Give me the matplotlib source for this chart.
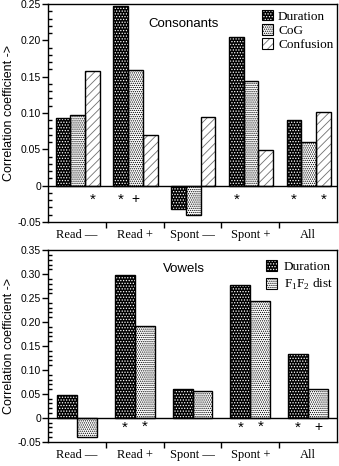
import matplotlib
matplotlib.use("Agg")
import matplotlib.pyplot as plt
from matplotlib.patches import Patch
from matplotlib.legend_handler import HandlerTuple
from matplotlib.ticker import MultipleLocator, FuncFormatter

# Категории
groups = ["Read —", "Read +", "Spont —", "Spont +", "All"]

# Согласные
cons_duration = [0.093, 0.247, -0.033, 0.205, 0.091]
cons_cog = [0.097, 0.159, -0.041, 0.144, 0.060]
cons_confusion = [0.158, 0.070, 0.095, 0.049, 0.102]
cons_dur_marks = ["", "*", "", "*", "*"]
cons_cog_marks = ["", "+", "", "", ""]
cons_conf_marks = ["*", "", "", "", "*"]

# Гласные
vow_duration = [0.047, 0.299, 0.061, 0.278, 0.134]
vow_f1f2 = [-0.039, 0.192, 0.055, 0.243, 0.061]
vow_dur_marks = ["", "*", "", "*", "*"]
vow_f1f2_marks = ["", "*", "", "*", "+"]

plt.rcParams['hatch.linewidth'] = 0.6
sans = "Liberation Sans"
serif = "Liberation Serif"

# стили заливки: (цвет фона, цвет штриховки, штриховка)
styles = {
    "Duration": ("black", "white", "......"),
    "CoG": ("white", "black", "........"),
    "Confusion": ("white", "#707070", "////"),
}


def draw_bars(ax, xs, vals, width, style):
    fc, hc, h = style
    ax.bar(xs, vals, width, align="edge", facecolor=fc, edgecolor=hc,
           hatch=h, linewidth=0, zorder=2)
    ax.bar(xs, vals, width, align="edge", facecolor="none",
           edgecolor="black", linewidth=1.0, zorder=3)


def legend_handle(style):
    fc, hc, h = style
    return (Patch(facecolor=fc, edgecolor=hc, hatch=h, linewidth=0),
            Patch(facecolor="none", edgecolor="black", linewidth=0.8))


def setup_axes(ax, ymin, ymax):
    ax.set_xlim(0, 5)
    ax.set_ylim(ymin, ymax)
    ax.axhline(0, color="black", linewidth=1.0, zorder=4)
    ax.yaxis.set_major_locator(MultipleLocator(0.05))
    ax.yaxis.set_minor_locator(MultipleLocator(0.01))
    ax.yaxis.set_major_formatter(FuncFormatter(
        lambda v, p: "0" if abs(v) < 1e-9 else "%.2f" % v))
    ax.tick_params(axis="y", which="major", direction="out", length=4,
                   width=1, labelsize=7.5, pad=1)
    ax.tick_params(axis="y", which="minor", direction="in", length=3, width=1)
    for lab in ax.get_yticklabels():
        lab.set_fontfamily(sans)
    ax.set_xticks([1, 2, 3, 4])
    ax.set_xticklabels([])
    ax.set_xticks([i + 0.5 for i in range(5)], minor=True)
    ax.set_xticklabels(groups, minor=True, fontfamily=serif, fontsize=9)
    ax.tick_params(axis="x", which="major", direction="out", length=4, width=1)
    ax.tick_params(axis="x", which="minor", length=0, pad=5)
    for sp in ax.spines.values():
        sp.set_linewidth(1.0)
    ax.set_ylabel("Correlation coefficient ->", fontfamily=sans, fontsize=9,
                  labelpad=2)


def put_marks(ax, xs, width, marks, y):
    for x, m in zip(xs, marks):
        if m:
            ax.text(x + width / 2, y, m, ha="center", va="center",
                    fontsize=11 if m == "*" else 10, fontfamily=sans,
                    zorder=5)


fig = plt.figure(figsize=(3.39, 4.66), dpi=100)
ax1 = fig.add_axes([0.1416, 0.524, 0.8525, 0.467])
ax2 = fig.add_axes([0.1416, 0.052, 0.8525, 0.411])

# верхний график - согласные
w = 0.255
off = 0.13
x0 = [i + off for i in range(5)]
x1 = [i + off + w for i in range(5)]
x2 = [i + off + 2 * w for i in range(5)]
draw_bars(ax1, x0, cons_duration, w, styles["Duration"])
draw_bars(ax1, x1, cons_cog, w, styles["CoG"])
draw_bars(ax1, x2, cons_confusion, w, styles["Confusion"])
setup_axes(ax1, -0.05, 0.25)
put_marks(ax1, x0, w, cons_dur_marks, -0.019)
put_marks(ax1, x1, w, cons_cog_marks, -0.018)
put_marks(ax1, x2, w, cons_conf_marks, -0.019)
ax1.text(0.47, 0.91, "Consonants", transform=ax1.transAxes, ha="center",
         va="center", fontfamily=sans, fontsize=9.5)
ax1.legend([legend_handle(styles[k]) for k in ["Duration", "CoG", "Confusion"]],
           ["Duration", "CoG", "Confusion"],
           handler_map={tuple: HandlerTuple(ndivide=1)},
           loc="upper right", bbox_to_anchor=(1.015, 1.01), frameon=False,
           prop={"family": serif, "size": 9.5}, handlelength=0.85,
           handleheight=0.85, handletextpad=0.35, labelspacing=0.1,
           borderaxespad=0.2)

# нижний график - гласные
w2 = 0.345
off2 = 0.155
v0 = [i + off2 for i in range(5)]
v1 = [i + off2 + w2 for i in range(5)]
draw_bars(ax2, v0, vow_duration, w2, styles["Duration"])
draw_bars(ax2, v1, vow_f1f2, w2, styles["CoG"])
setup_axes(ax2, -0.05, 0.35)
put_marks(ax2, v0, w2, vow_dur_marks, -0.02)
put_marks(ax2, v1, w2, vow_f1f2_marks, -0.019)
ax2.text(0.47, 0.9, "Vowels", transform=ax2.transAxes, ha="center",
         va="center", fontfamily=sans, fontsize=9.5)
ax2.legend([legend_handle(styles["Duration"]), legend_handle(styles["CoG"])],
           ["Duration", r"F$_\mathregular{1}$F$_\mathregular{2}$ dist"],
           handler_map={tuple: HandlerTuple(ndivide=1)},
           loc="upper right", bbox_to_anchor=(1.015, 0.99), frameon=False,
           prop={"family": serif, "size": 9.5}, handlelength=0.85,
           handleheight=0.85, handletextpad=0.5, labelspacing=0.3,
           borderaxespad=0.2)

fig.savefig("out.png", dpi=100)
